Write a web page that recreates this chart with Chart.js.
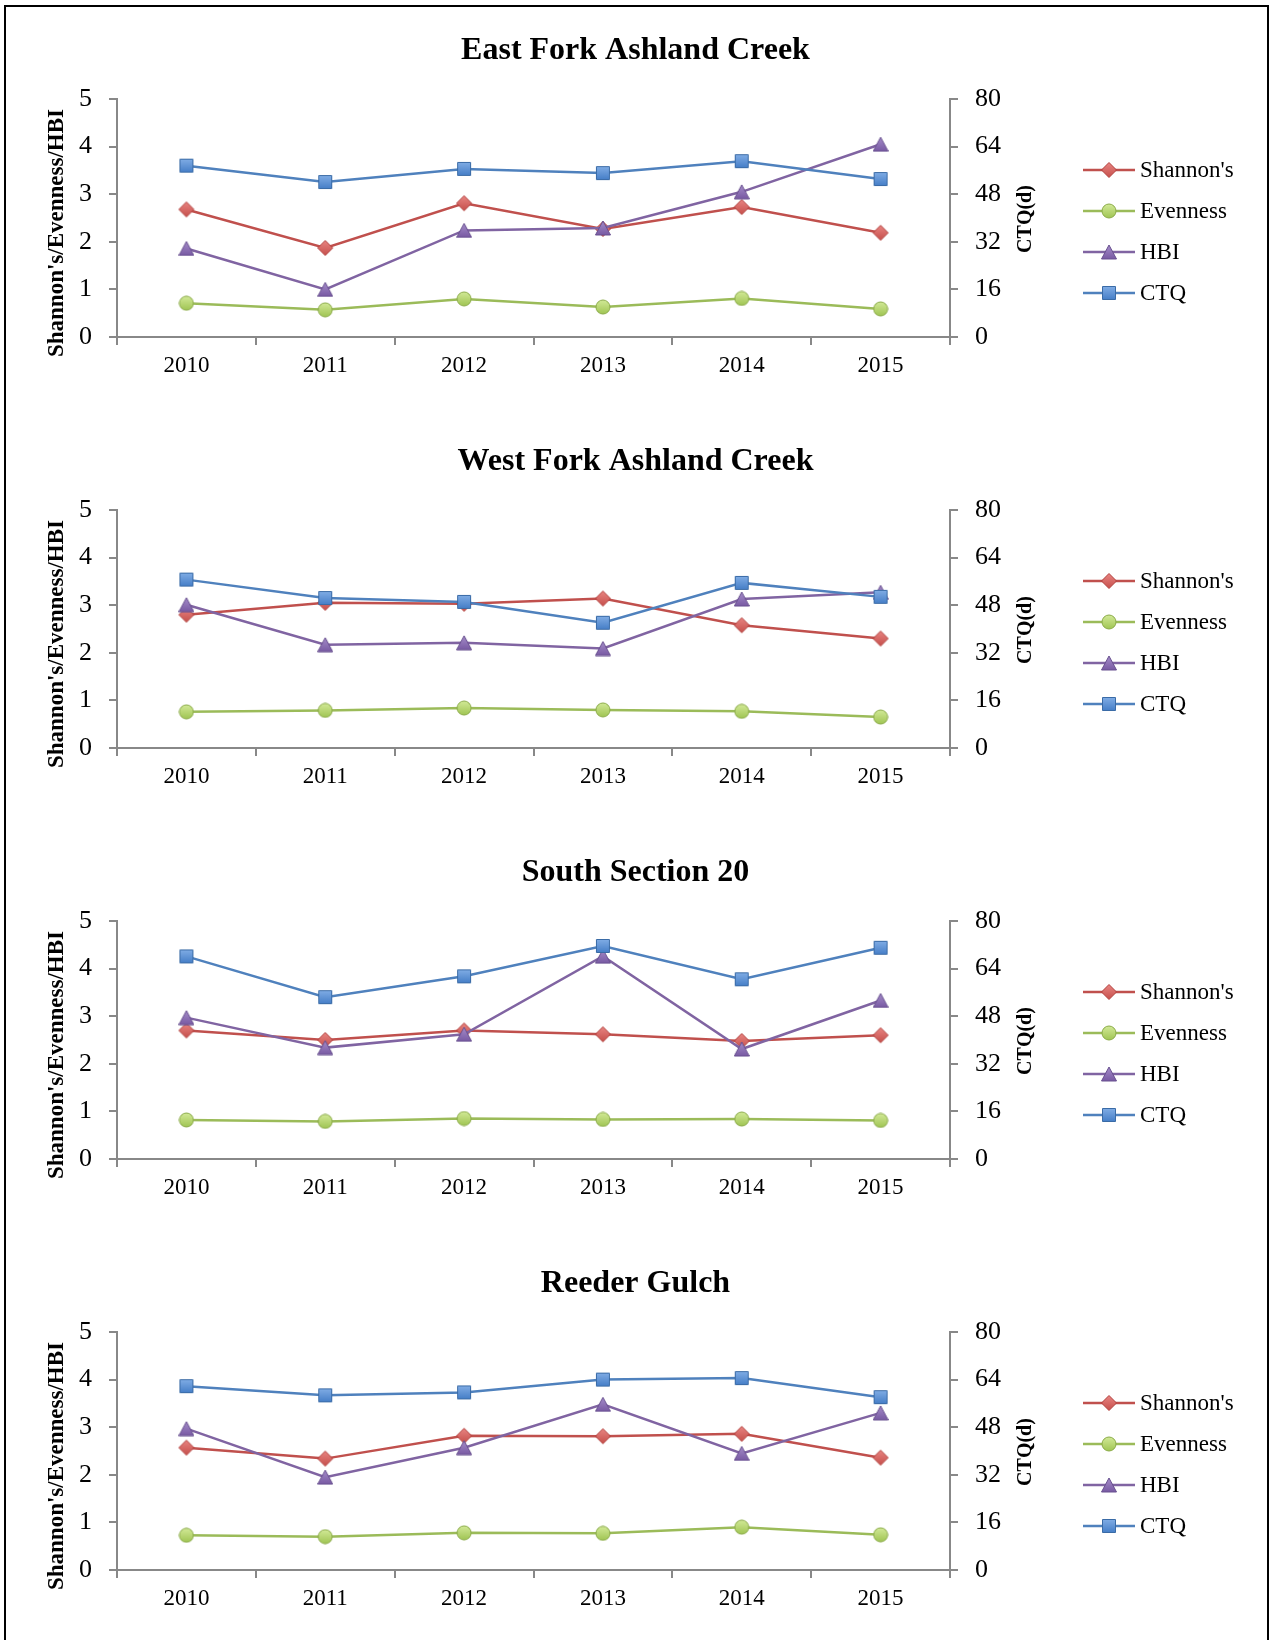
<!DOCTYPE html>
<html>
<head>
<meta charset="utf-8">
<title>Macroinvertebrate metrics by site, 2010–2015</title>
<script src="https://cdn.jsdelivr.net/npm/chart.js@4.4.1/dist/chart.umd.min.js"></script>
<style>
  html, body { margin: 0; padding: 0; background: #fff; overflow: hidden; width: 1271px; height: 1640px; }
  #frame { position: absolute; left: 4px; top: 5px; width: 1261px; height: 1700px; border: 2px solid #000; }
  .panel { position: absolute; left: 0; width: 1271px; height: 411px; }
  .panel canvas { display: block; }
</style>
</head>
<body>
<div id="frame"></div>
<div class="panel" style="top:7px"><canvas id="c0" width="1271" height="411"></canvas></div>
<div class="panel" style="top:418px"><canvas id="c1" width="1271" height="411"></canvas></div>
<div class="panel" style="top:829px"><canvas id="c2" width="1271" height="411"></canvas></div>
<div class="panel" style="top:1240px"><canvas id="c3" width="1271" height="411"></canvas></div>

<script>
// ---- data ----
const years = ['2010', '2011', '2012', '2013', '2014', '2015'];
const seriesNames = ["Shannon's", 'Evenness', 'HBI', 'CTQ'];
const sites = ['East Fork Ashland Creek', 'West Fork Ashland Creek', 'South Section 20', 'Reeder Gulch'];
const leftTicks = [0, 1, 2, 3, 4, 5];
const rightTicks = [0, 16, 32, 48, 64, 80];
const leftAxisTitle = "Shannon's/Evenness/HBI";
const rightAxisTitle = 'CTQ(d)';

const eastShannon  = [2.68, 1.87, 2.81, 2.27, 2.73, 2.19];
const eastEvenness = [0.71, 0.57, 0.80, 0.63, 0.81, 0.59];
const eastHBI      = [1.86, 1.00, 2.24, 2.29, 3.05, 4.05];
const eastCTQ      = [57.6, 52.1, 56.5, 55.1, 59.1, 53.1];

const westShannon  = [2.80, 3.05, 3.03, 3.14, 2.58, 2.30];
const westEvenness = [0.76, 0.79, 0.84, 0.80, 0.77, 0.65];
const westHBI      = [3.01, 2.17, 2.21, 2.09, 3.13, 3.27];
const westCTQ      = [56.6, 50.4, 49.1, 42.1, 55.5, 50.8];

const southShannon  = [2.70, 2.50, 2.70, 2.62, 2.48, 2.60];
const southEvenness = [0.82, 0.79, 0.85, 0.83, 0.84, 0.81];
const southHBI      = [2.97, 2.34, 2.62, 4.26, 2.31, 3.33];
const southCTQ      = [68.1, 54.4, 61.4, 71.6, 60.4, 71.0];

const reederShannon  = [2.57, 2.34, 2.82, 2.81, 2.86, 2.36];
const reederEvenness = [0.73, 0.70, 0.78, 0.77, 0.90, 0.74];
const reederHBI      = [2.97, 1.95, 2.57, 3.48, 2.45, 3.30];
const reederCTQ      = [61.8, 58.7, 59.7, 64.0, 64.5, 58.1];

const siteSeries = [
  [eastShannon, eastEvenness, eastHBI, eastCTQ],
  [westShannon, westEvenness, westHBI, westCTQ],
  [southShannon, southEvenness, southHBI, southCTQ],
  [reederShannon, reederEvenness, reederHBI, reederCTQ]
];

// ---- styling ----
const SERIF = "'Liberation Serif', 'DejaVu Serif', serif";
const AXIS_GREY = '#888888';
const lineColors = ['#C0504D', '#9BBB59', '#8064A2', '#4F81BD'];

// Small gradient-filled marker bitmaps used as point styles
function makeMarker(shape, top, bottom, stroke) {
  const dims = { diamond: [18, 18], circle: [16, 16], triangle: [16, 16], square: [16, 16] }[shape];
  const c = document.createElement('canvas');
  c.width = dims[0]; c.height = dims[1];
  const g = c.getContext('2d');
  const grad = g.createLinearGradient(0, 0, 0, dims[1]);
  grad.addColorStop(0, top);
  grad.addColorStop(1, bottom);
  g.beginPath();
  if (shape === 'diamond') {
    g.moveTo(9, 1.5); g.lineTo(16.5, 9); g.lineTo(9, 16.5); g.lineTo(1.5, 9); g.closePath();
  } else if (shape === 'circle') {
    g.arc(8, 8, 7, 0, Math.PI * 2);
  } else if (shape === 'triangle') {
    g.moveTo(8, 1); g.lineTo(15.5, 15); g.lineTo(0.5, 15); g.closePath();
  } else {
    g.rect(1.5, 1.5, 13, 13);
  }
  g.fillStyle = grad;
  g.fill();
  g.lineWidth = 1;
  g.strokeStyle = stroke;
  g.stroke();
  return c;
}

const markers = [
  makeMarker('diamond', '#EC8A87', '#C24A46', '#B13F3C'),
  makeMarker('circle', '#D6EC9C', '#9CC24E', '#8AAA48'),
  makeMarker('triangle', '#A890CC', '#7556A0', '#68508F'),
  makeMarker('square', '#86B1E8', '#3F79C4', '#3A6BA6')
];

// Axis titles and the series key, drawn beside the plot area
const sideText = {
  id: 'sideText',
  afterDraw(chart) {
    const ctx = chart.ctx;
    const a = chart.chartArea;
    ctx.save();
    ctx.fillStyle = '#000';
    ctx.textBaseline = 'middle';
    ctx.textAlign = 'center';

    ctx.font = 'bold 23px ' + SERIF;
    ctx.translate(a.left - 60, a.top + 134);
    ctx.rotate(-Math.PI / 2);
    ctx.fillText(leftAxisTitle, 0, 0);
    ctx.setTransform(1, 0, 0, 1, 0, 0);

    ctx.font = 'bold 20px ' + SERIF;
    ctx.translate(a.right + 76, (a.top + a.bottom) / 2 + 1);
    ctx.rotate(-Math.PI / 2);
    ctx.fillText(rightAxisTitle, 0, 0);
    ctx.setTransform(1, 0, 0, 1, 0, 0);

    ctx.textAlign = 'left';
    ctx.font = '23px ' + SERIF;
    chart.data.datasets.forEach((ds, i) => {
      const y = a.top + 71 + i * 41;
      const x0 = a.right + 133;
      ctx.strokeStyle = ds.borderColor;
      ctx.lineWidth = 2.5;
      ctx.beginPath();
      ctx.moveTo(x0, y);
      ctx.lineTo(x0 + 52, y);
      ctx.stroke();
      const m = ds.pointStyle;
      ctx.drawImage(m, Math.round(x0 + 26 - m.width / 2), Math.round(y - m.height / 2));
      ctx.fillStyle = '#000';
      ctx.fillText(ds.label, x0 + 57, y + 1);
    });
    ctx.restore();
  }
};

function axisGrid() {
  return { display: true, drawOnChartArea: false, drawTicks: true, tickLength: 8, color: AXIS_GREY, lineWidth: 2 };
}

function buildChart(canvasId, title, values) {
  return new Chart(document.getElementById(canvasId), {
    type: 'line',
    data: {
      labels: years,
      datasets: seriesNames.map((name, i) => ({
        label: name,
        data: values[i],
        yAxisID: i === 3 ? 'y1' : 'y',
        borderColor: lineColors[i],
        backgroundColor: lineColors[i],
        borderWidth: 2.5,
        pointStyle: markers[i],
        pointRadius: 8,
        tension: 0,
        fill: false,
        order: 3 - i
      }))
    },
    options: {
      responsive: false,
      animation: false,
      devicePixelRatio: 1,
      events: [],
      layout: { padding: 0 },
      plugins: {
        legend: { display: false },
        tooltip: { enabled: false },
        title: {
          display: true,
          text: title,
          color: '#000',
          font: { family: SERIF, size: 32, weight: 'bold', lineHeight: 1.2 },
          padding: { top: 25, bottom: 28.6 }
        }
      },
      scales: {
        x: {
          type: 'category',
          offset: true,
          grid: Object.assign(axisGrid(), { offset: true }),
          border: { display: true, color: AXIS_GREY, width: 2 },
          ticks: { color: '#000', font: { family: SERIF, size: 23 }, padding: 7, maxRotation: 0 },
          afterFit: (s) => { s.height = 81; }
        },
        y: {
          position: 'left',
          min: leftTicks[0],
          max: leftTicks[leftTicks.length - 1],
          afterBuildTicks: (s) => { s.ticks = leftTicks.map(v => ({ value: v })); },
          grid: axisGrid(),
          border: { display: true, color: AXIS_GREY, width: 2 },
          ticks: { color: '#000', font: { family: SERIF, size: 26 }, padding: 17 },
          afterFit: (s) => { s.width = 117; }
        },
        y1: {
          position: 'right',
          min: rightTicks[0],
          max: rightTicks[rightTicks.length - 1],
          afterBuildTicks: (s) => { s.ticks = rightTicks.map(v => ({ value: v })); },
          grid: axisGrid(),
          border: { display: true, color: AXIS_GREY, width: 2 },
          ticks: { color: '#000', font: { family: SERIF, size: 26 }, padding: 17 },
          afterFit: (s) => { s.width = 321; }
        }
      }
    },
    plugins: [sideText]
  });
}

sites.forEach((site, i) => buildChart('c' + i, site, siteSeries[i]));
</script>
</body>
</html>
